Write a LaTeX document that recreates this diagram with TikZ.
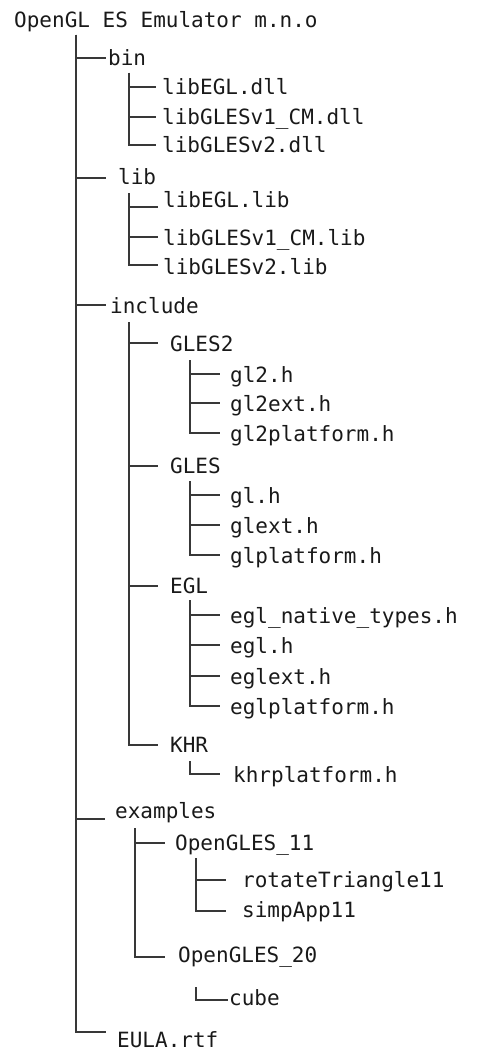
\documentclass[tikz,border=0pt]{standalone}
\usepackage{fontspec}
\setmonofont{DejaVu Sans Mono}
\begin{document}
\begin{tikzpicture}[x=1pt,y=-1pt,
  txt/.style={anchor=base west, inner sep=0pt, font=\ttfamily\fontsize{21}{25}\selectfont, text=black!90},
  conn/.style={draw=black!78, line width=1.2pt}]
\useasboundingbox (0,0) rectangle (478,1051);
% ---- root
\node[txt] (root) at (14,28) {OpenGL ES Emulator m.n.o};
\coordinate (r0) at (76,35);
% ---- level 1
\node[txt] (bin) at (108,66) {bin};
\node[txt] (lib) at (118,185) {lib};
\node[txt] (include) at (110,313) {include};
\node[txt] (examples) at (115,818) {examples};
\node[txt] (eula) at (117,1047) {EULA.rtf};
\coordinate (binL) at (106,58);
\coordinate (libL) at (106,178);
\coordinate (incL) at (106,305);
\coordinate (exL) at (105,819);
\coordinate (eulaL) at (106,1032);
\draw[conn] (r0) |- (eulaL);
\foreach \c in {binL,libL,incL,exL} \draw[conn] (r0) |- (\c);
% ---- bin children
\node[txt] (bdll1) at (162,95) {libEGL.dll};
\node[txt] (bdll2) at (162,125) {libGLESv1\_CM.dll};
\node[txt] (bdll3) at (162,153) {libGLESv2.dll};
\coordinate (b0) at (129,73);
\coordinate (b1L) at (156,87);
\coordinate (b2L) at (156,117);
\coordinate (b3L) at (156,145);
\foreach \c in {b1L,b2L,b3L} \draw[conn] (b0) |- (\c);
% ---- lib children
\node[txt] (llib1) at (163,207) {libEGL.lib};
\node[txt] (llib2) at (163,245) {libGLESv1\_CM.lib};
\node[txt] (llib3) at (163,274) {libGLESv2.lib};
\coordinate (l0) at (129,193);
\coordinate (l1L) at (158,207);
\coordinate (l2L) at (158,237);
\coordinate (l3L) at (158,265);
\foreach \c in {l1L,l2L,l3L} \draw[conn] (l0) |- (\c);
% ---- include children
\node[txt] (gles2) at (170,351) {GLES2};
\node[txt] (gles) at (170,473) {GLES};
\node[txt] (egl) at (170,593) {EGL};
\node[txt] (khr) at (170,752) {KHR};
\coordinate (i0) at (129,322);
\coordinate (i1L) at (158,343);
\coordinate (i2L) at (158,466);
\coordinate (i3L) at (158,586);
\coordinate (i4L) at (158,745);
\foreach \c in {i1L,i2L,i3L,i4L} \draw[conn] (i0) |- (\c);
% ---- GLES2 children
\node[txt] (gltwoh) at (230,382) {gl2.h};
\node[txt] (gltwoext) at (230,411) {gl2ext.h};
\node[txt] (gltwoplat) at (230,441) {gl2platform.h};
\coordinate (ga0) at (190,360);
\coordinate (ga1L) at (220,374);
\coordinate (ga2L) at (220,403);
\coordinate (ga3L) at (220,433);
\foreach \c in {ga1L,ga2L,ga3L} \draw[conn] (ga0) |- (\c);
% ---- GLES children
\node[txt] (glh) at (230,503) {gl.h};
\node[txt] (glext) at (230,533) {glext.h};
\node[txt] (glplat) at (230,563) {glplatform.h};
\coordinate (gb0) at (190,481);
\coordinate (gb1L) at (220,495);
\coordinate (gb2L) at (220,525);
\coordinate (gb3L) at (220,555);
\foreach \c in {gb1L,gb2L,gb3L} \draw[conn] (gb0) |- (\c);
% ---- EGL children
\node[txt] (eglnat) at (230,623) {egl\_native\_types.h};
\node[txt] (eglh) at (230,653) {egl.h};
\node[txt] (eglext) at (230,684) {eglext.h};
\node[txt] (eglplat) at (230,714) {eglplatform.h};
\coordinate (e0) at (190,600);
\coordinate (e1L) at (220,615);
\coordinate (e2L) at (220,645);
\coordinate (e3L) at (220,676);
\coordinate (e4L) at (220,706);
\foreach \c in {e1L,e2L,e3L,e4L} \draw[conn] (e0) |- (\c);
% ---- KHR child
\node[txt] (khrplat) at (233,782) {khrplatform.h};
\coordinate (k0) at (190,761);
\coordinate (k1L) at (220,774);
\draw[conn] (k0) |- (k1L);
% ---- examples children
\node[txt] (ogl11) at (175,850) {OpenGLES\_11};
\node[txt] (ogl20) at (178,962) {OpenGLES\_20};
\coordinate (x0) at (135,828);
\coordinate (x1L) at (165,843);
\coordinate (x2L) at (165,957);
\foreach \c in {x1L,x2L} \draw[conn] (x0) |- (\c);
% ---- OpenGLES_11 children
\node[txt] (rot) at (242,887) {rotateTriangle11};
\node[txt] (simp) at (242,917) {simpApp11};
\coordinate (o0) at (196,858);
\coordinate (o1L) at (226,880);
\coordinate (o2L) at (226,911);
\foreach \c in {o1L,o2L} \draw[conn] (o0) |- (\c);
% ---- OpenGLES_20 child
\node[txt] (cube) at (229,1005) {cube};
\coordinate (p0) at (196,987);
\coordinate (p1L) at (228,1000);
\draw[conn] (p0) |- (p1L);
\end{tikzpicture}
\end{document}
